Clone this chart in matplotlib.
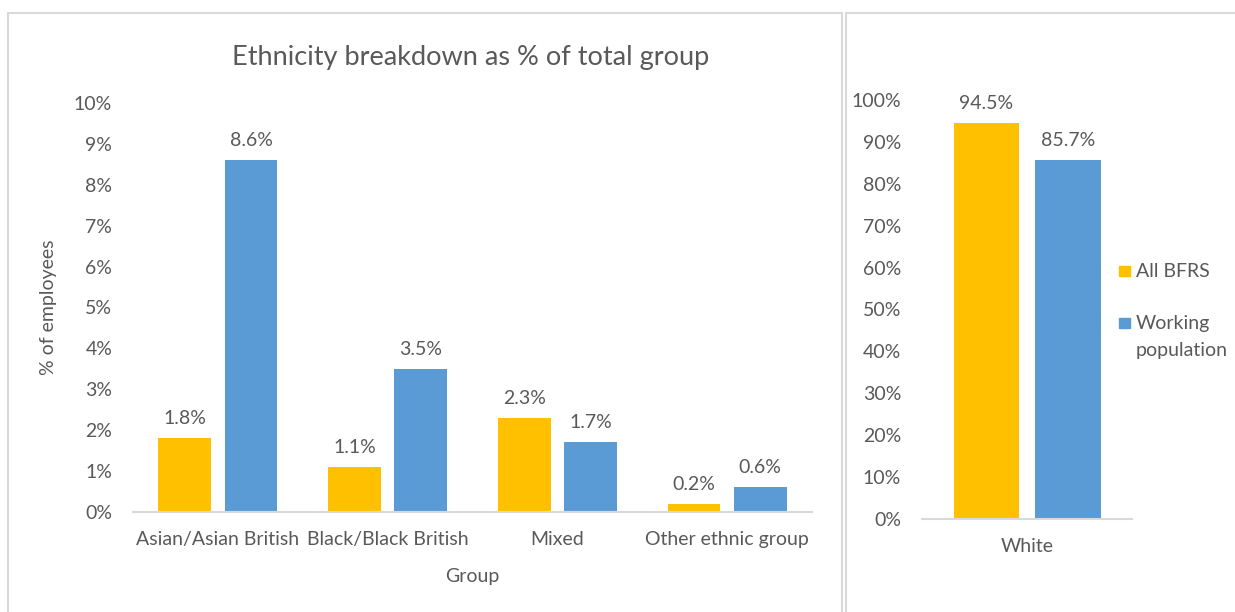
import matplotlib.pyplot as plt
from matplotlib.patches import Rectangle
import numpy as np

plt.rcParams['font.family'] = ['Lato', 'DejaVu Sans']

# data
groups = ['Asian/Asian British', 'Black/Black British', 'Mixed', 'Other ethnic group']
bfrs = [1.8, 1.1, 2.3, 0.2]
working = [8.6, 3.5, 1.7, 0.6]
white_label = ['White']
white_bfrs = [94.5]
white_working = [85.7]
series_names = ['All BFRS', 'Working\npopulation']

YELLOW = '#FFC000'
BLUE = '#5B9BD5'
TEXT = '#595959'
GRID = '#D9D9D9'
FS = 14

W, H = 1235, 612
fig = plt.figure(figsize=(W / 100, H / 100), dpi=100)

def fbox(x0, y0, x1, y1):
    # pixel box -> figure fraction [left, bottom, width, height]
    return [x0 / W, 1 - y1 / H, (x1 - x0) / W, (y1 - y0) / H]

# panel borders
fig.patches.append(Rectangle((8 / W, -0.01), (842 - 8) / W, 1 - 13 / H + 0.01,
                             transform=fig.transFigure, fill=False, edgecolor=GRID, lw=1.5))
fig.patches.append(Rectangle((846 / W, -0.01), (1240 - 846) / W, 1 - 13 / H + 0.01,
                             transform=fig.transFigure, fill=False, edgecolor=GRID, lw=1.5))

def style(ax):
    for s in ['top', 'right', 'left']:
        ax.spines[s].set_visible(False)
    ax.spines['bottom'].set_color(GRID)
    ax.spines['bottom'].set_linewidth(1.5)
    ax.tick_params(axis='both', length=0, colors=TEXT, labelsize=FS)
    ax.tick_params(axis='y', pad=15)
    ax.tick_params(axis='x', pad=14)

def label_bars(ax, bars, vals):
    for r, v in zip(bars, vals):
        ax.annotate(f'{v:.1f}%', (r.get_x() + r.get_width() / 2, v), xytext=(0, 8),
                    textcoords='offset points', ha='center', va='bottom', color=TEXT, fontsize=FS)

# left chart
ax = fig.add_axes(fbox(133, 103, 812, 512))
x = np.arange(len(groups))
off, bw = 0.195, 0.31
b1 = ax.bar(x - off, bfrs, bw, color=YELLOW)
b2 = ax.bar(x + off, working, bw, color=BLUE)
label_bars(ax, b1, bfrs)
label_bars(ax, b2, working)
ax.set_xlim(-0.5, len(groups) - 0.5)
ax.set_ylim(0, 10)
ax.set_yticks(range(0, 11))
ax.set_yticklabels([f'{i}%' for i in range(0, 11)])
ax.set_xticks(x)
ax.set_xticklabels(groups)
style(ax)
ax.set_xlabel('Group', color=TEXT, fontsize=FS, labelpad=14)
ax.set_ylabel('% of employees', color=TEXT, fontsize=FS, labelpad=12)
fig.text(471 / W, 1 - 57 / H, 'Ethnicity breakdown as % of total group',
         ha='center', va='center', color=TEXT, fontsize=19.5)

# right chart
ax2 = fig.add_axes(fbox(922, 100, 1132, 519))
xw = np.arange(len(white_label))
r1 = ax2.bar(xw - off, white_bfrs, bw, color=YELLOW)
r2 = ax2.bar(xw + off, white_working, bw, color=BLUE)
label_bars(ax2, r1, white_bfrs)
label_bars(ax2, r2, white_working)
ax2.set_xlim(-0.5, 0.5)
ax2.set_ylim(0, 100)
ax2.set_yticks(range(0, 101, 10))
ax2.set_yticklabels([f'{i}%' for i in range(0, 101, 10)])
ax2.set_xticks(xw)
ax2.set_xticklabels(white_label)
style(ax2)

# legend (handle aligned with first text line, as in the original)
for (name, col, ytop) in [(series_names[0], YELLOW, 266), (series_names[1], BLUE, 318)]:
    fig.patches.append(Rectangle((1119 / W, 1 - (ytop + 10) / H), 11 / W, 10 / H,
                                 transform=fig.transFigure, color=col))
    fig.text(1136 / W, 1 - (ytop - 3) / H, name, ha='left', va='top', color=TEXT,
             fontsize=FS, linespacing=1.75)

fig.savefig('out.png', dpi=100)
